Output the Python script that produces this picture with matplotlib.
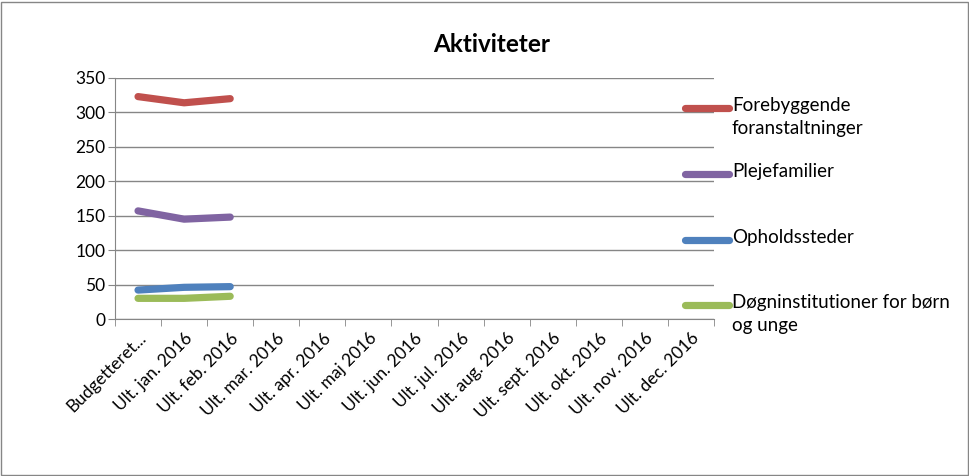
import matplotlib
matplotlib.use('Agg')

import numpy as np
import matplotlib.pyplot as plt
from matplotlib.lines import Line2D
from matplotlib.patches import Rectangle

##########################################################################
## Data
##########################################################################

categories = ['Budgetteret...', 'Ult. jan. 2016', 'Ult. feb. 2016', 'Ult. mar. 2016',
              'Ult. apr. 2016', 'Ult. maj 2016', 'Ult. jun. 2016', 'Ult. jul. 2016',
              'Ult. aug. 2016', 'Ult. sept. 2016', 'Ult. okt. 2016', 'Ult. nov. 2016',
              'Ult. dec. 2016']
forebyggende = [323, 314, 320]
plejefamilier = [157, 145, 148]
opholdssteder = [42, 46, 47]
dogninstitutioner = [30, 30, 33]

series_names = ['Forebyggende\nforanstaltninger', 'Plejefamilier', 'Opholdssteder',
                'Døgninstitutioner for børn\nog unge']
colors = ['#C0504D', '#8064A2', '#4F81BD', '#9BBB59']

##########################################################################
## Drawing
##########################################################################

plt.rcParams['font.family'] = ['Lato', 'DejaVu Sans']
grid_col = '#868686'

fig = plt.figure(figsize=(9.7, 4.76), dpi=100)
ax = fig.add_axes([115 / 970, 1 - 319 / 476, 599 / 970, 241 / 476])

x = np.arange(len(categories))
for vals, col in zip([forebyggende, plejefamilier, opholdssteder, dogninstitutioner], colors):
    ax.plot(x[:len(vals)], vals, color=col, lw=5.2, solid_capstyle='round',
            solid_joinstyle='round')

ax.set_xlim(-0.5, len(categories) - 0.5)
ax.set_ylim(0, 350)
ax.set_yticks(range(0, 351, 50))
ax.yaxis.grid(True, color=grid_col, lw=1)
ax.set_axisbelow(True)
for s in ['top', 'right']:
    ax.spines[s].set_visible(False)
for s in ['left', 'bottom']:
    ax.spines[s].set_color(grid_col)
ax.tick_params(axis='y', length=5, color=grid_col, labelsize=12.5, pad=2)

ax.set_xticks(x)
ax.set_xticklabels(categories, rotation=45, ha='right', rotation_mode='anchor',
                   fontsize=12.5)
ax.tick_params(axis='x', which='major', length=0, pad=8)
ax.set_xticks(np.arange(-0.5, len(categories), 1), minor=True)
ax.tick_params(axis='x', which='minor', length=5, color=grid_col)

fig.text(492 / 970, 1 - 44 / 476, 'Aktiviteter', ha='center', va='center',
         fontsize=17.5, fontweight='bold')

# legend drawn by hand so the handle sits on the first text line
leg_y = [108, 174, 240, 305]
for name, col, yy in zip(series_names, colors, leg_y):
    fy = 1 - yy / 476
    fig.add_artist(Line2D([685 / 970, 729 / 970], [fy, fy], color=col, lw=5.2,
                          solid_capstyle='round', transform=fig.transFigure))
    fig.text(732 / 970, 1 - (yy - 11) / 476, name, ha='left', va='top',
             fontsize=13.5, linespacing=1.45)

fig.add_artist(Rectangle((1 / 970, 1 / 476), 967 / 970, 473 / 476, fill=False,
                         edgecolor=grid_col, lw=1, transform=fig.transFigure))

fig.savefig('out.png', dpi=100)
